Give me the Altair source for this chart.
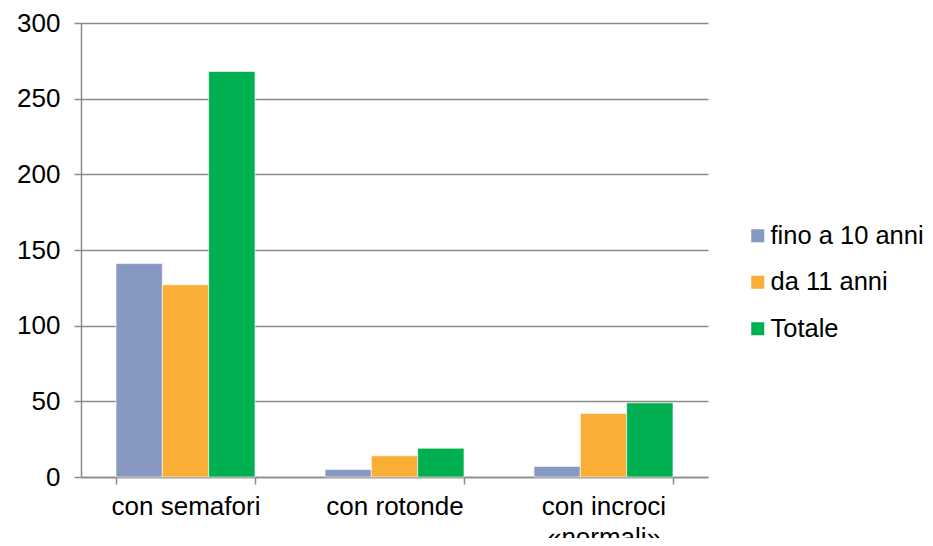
import altair as alt
import pandas as pd

categories = ["con semafori", "con rotonde", "con incroci «normali»"]
series = ["fino a 10 anni", "da 11 anni", "Totale"]
fino_10 = [141, 5, 7]
da_11 = [127, 14, 42]
totale = [268, 19, 49]
colors = ["#8899C1", "#F9AF36", "#00AF50"]
y_ticks = [0, 50, 100, 150, 200, 250, 300]

rows = []
for s, vals in zip(series, [fino_10, da_11, totale]):
    for c, v in zip(categories, vals):
        rows.append({"categoria": c, "serie": s, "valore": v})
df = pd.DataFrame(rows)

FONT = "Liberation Sans"
GRID = "#8a8a8a"
FS = 26

chart = alt.Chart(df).mark_bar(stroke="white", strokeWidth=0.6).encode(
    x=alt.X(
        "categoria:N", sort=categories, title=None,
        scale=alt.Scale(paddingInner=0.335, paddingOuter=0.1675),
        axis=alt.Axis(
            labelAngle=0, tickBand="extent", labelFontSize=FS, labelFont=FONT,
            labelColor="black", labelPadding=9, tickSize=7, tickColor=GRID,
            tickWidth=1.5, domainColor=GRID, domainWidth=1.5, grid=False,
            labelLineHeight=31, labelLimit=300,
            labelExpr="datum.label == 'con incroci «normali»' ? ['con incroci', '«normali»'] : datum.label",
        ),
    ),
    xOffset=alt.XOffset("serie:N", sort=series,
                        scale=alt.Scale(paddingInner=0, paddingOuter=0)),
    y=alt.Y(
        "valore:Q", title=None,
        scale=alt.Scale(domain=[0, 300], nice=False),
        axis=alt.Axis(
            values=y_ticks, labelFontSize=FS, labelFont=FONT, labelColor="black",
            labelPadding=14, tickSize=7, tickColor=GRID, tickWidth=1.5,
            domainColor=GRID, domainWidth=1.5, gridColor=GRID, gridWidth=1.5,
        ),
    ),
    color=alt.Color(
        "serie:N", sort=series, title=None,
        scale=alt.Scale(domain=series, range=colors),
        legend=alt.Legend(
            orient="none", legendX=664, legendY=200, symbolType="square",
            symbolSize=170, symbolStrokeWidth=0, labelFontSize=25.5, labelFont=FONT,
            labelColor="black", rowPadding=19.5, labelOffset=0, labelLimit=400,
        ),
    ),
).properties(
    width=627, height=454,
    autosize=alt.AutoSizeParams(type="none"),
    padding={"left": 73, "top": 15, "right": 217, "bottom": 61},
).configure_view(stroke=None)

chart.save("out.html", embed_options={"renderer": "svg", "actions": False})
